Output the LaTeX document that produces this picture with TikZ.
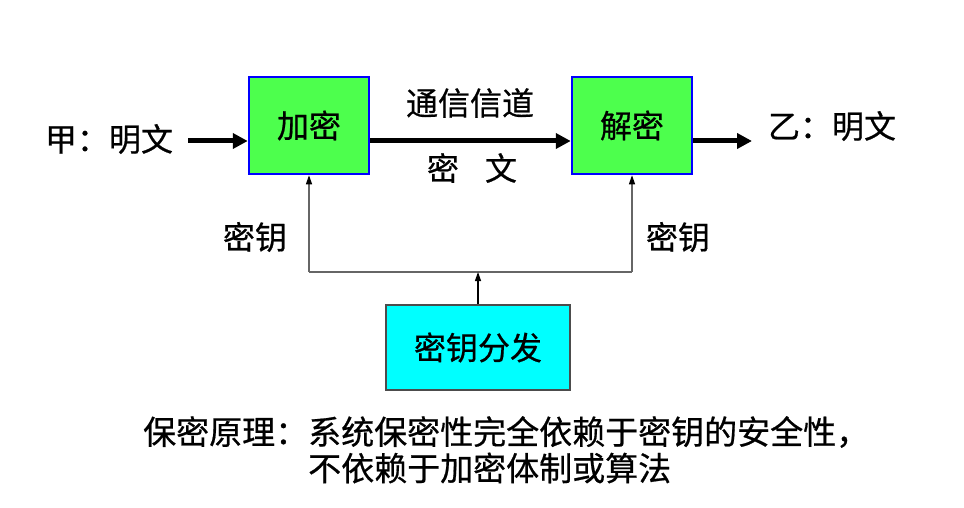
\documentclass[tikz,border=0pt]{standalone}
\usepackage{fontspec}
\setmainfont{Noto Sans CJK SC}[FakeBold=0.6]
\usetikzlibrary{arrows.meta}
\definecolor{boxgreen}{RGB}{77,255,77}
\definecolor{keycyan}{RGB}{0,255,255}

\begin{document}
\begin{tikzpicture}[x=1pt,y=-1pt,
        every node/.style={font=\fontsize{32}{36}\selectfont},
        cbox/.style={draw=blue,line width=2.5pt,fill=boxgreen,minimum width=120pt,minimum height=97pt,inner sep=0pt},
        bigarrow/.style={line width=5pt,-{Triangle[length=15pt,width=15pt]}},
        keyline/.style={draw=black!60,line width=1.2pt},
        note/.style={anchor=west,inner sep=0pt,font=\fontsize{33}{38}\selectfont}]
        \useasboundingbox (0,0) rectangle (964,508);
        % boxes
        \node[cbox] (enc) at (309,125.5) {加密};
        \node[cbox] (dec) at (632,125.5) {解密};
        \node[draw=black!70,line width=1.2pt,fill=keycyan,minimum width=184pt,minimum height=85pt] (kd) at (478,347.5) {密钥分发};
        % texts
        \node (pa) at (109,139) {甲：明文};
        \node (pb) at (832,126) {乙：明文};
        \node (ch) at (470,103) {通信信道};
        \node (ct) at (472,168) {密\hspace{26pt}文};
        \node (ka) at (255,237) {密钥};
        \node (kb) at (678,237) {密钥};
        \node[note] (p1) at (143,432) {保密原理：系统保密性完全依赖于密钥的安全性，};
        \node[note] (p2) at (308,468) {不依赖于加密体制或算法};
        % thick arrows
        \coordinate (in) at (188,141);
        \coordinate (out) at (752,141);
        \draw[bigarrow] (in) -- (enc.west |- in);
        \draw[bigarrow] (enc.east |- out) -- (dec.west |- out);
        \draw[bigarrow] (dec.east |- out) -- (out);
        % key lines
        \coordinate (kl) at (309,272);
        \coordinate (kr) at (632,272);
        \draw[keyline] (kl) -- (kr);
        \foreach \b in {enc,dec}
            \draw[keyline,-{Triangle[length=9pt,width=6pt,black]}] (\b.south |- kl) -- (\b.south);
        \draw[line width=1.2pt,-{Triangle[length=9pt,width=6pt]}] (kd.north) -- (kd.north |- kl);
\end{tikzpicture}
\end{document}
